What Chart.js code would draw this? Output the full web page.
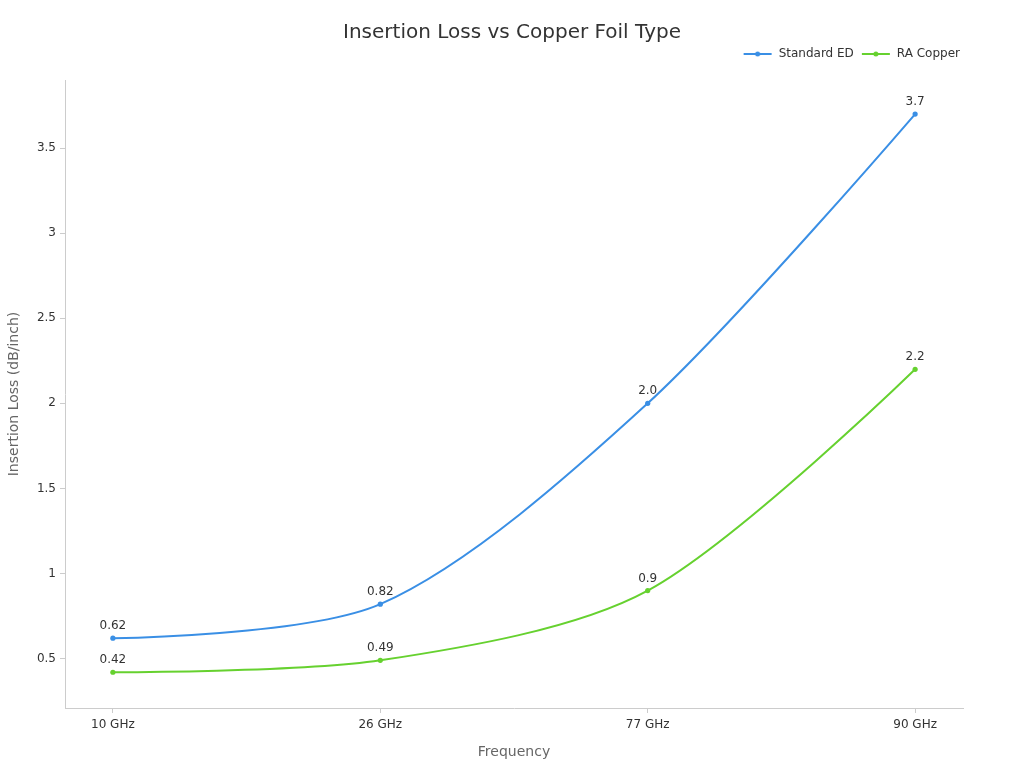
<!DOCTYPE html>
<html>
<head>
<meta charset="utf-8">
<script src="https://cdn.jsdelivr.net/npm/chart.js@4.4.1/dist/chart.umd.min.js"></script>
<style>
  html, body { margin: 0; padding: 0; background: #fff; }
  canvas { display: block; }
</style>
</head>
<body>
<canvas id="chart" width="1024" height="768"></canvas>
<script>
// data
const categories = ["10 GHz", "26 GHz", "77 GHz", "90 GHz"];
const standardED = [0.62, 0.82, 2.0, 3.7];
const raCopper = [0.42, 0.49, 0.9, 2.2];
const standardLabels = ["0.62", "0.82", "2.0", "3.7"];
const raLabels = ["0.42", "0.49", "0.9", "2.2"];
const yTicks = [0.5, 1, 1.5, 2, 2.5, 3, 3.5];

const BLUE = "#3a8fe5";
const GREEN = "#66d12f";
const FONT = "'DejaVu Sans', sans-serif";

Chart.defaults.font.family = FONT;
Chart.defaults.color = "#333";

// legend icon: short line with a dot in the middle (small transparent gap on the left)
function legendIcon(color) {
  const c = document.createElement("canvas");
  c.width = 34;
  c.height = 8;
  const ctx = c.getContext("2d");
  ctx.strokeStyle = color;
  ctx.lineWidth = 2;
  ctx.beginPath();
  ctx.moveTo(5, 4);
  ctx.lineTo(33, 4);
  ctx.stroke();
  ctx.fillStyle = color;
  ctx.beginPath();
  ctx.arc(19, 4, 2.5, 0, Math.PI * 2);
  ctx.fill();
  return c;
}
const icons = [legendIcon(BLUE), legendIcon(GREEN)];

const toPoints = (arr) => arr.map((v, i) => ({ x: i, y: v }));

const clamp = (v, a, b) => Math.max(Math.min(v, Math.max(a, b)), Math.min(a, b));

// smoothing like the reference: ends use the point itself,
// control points kept inside the neighbour boxes
function smoothPoints(pts, smooth) {
  const n = pts.length;
  for (let i = 0; i < n; i++) {
    const p = pts[i];
    if (i === 0 || i === n - 1) {
      p.cp1x = p.x; p.cp1y = p.y; p.cp2x = p.x; p.cp2y = p.y;
      continue;
    }
    const prev = pts[i - 1], next = pts[i + 1];
    let vx = next.x - prev.x, vy = next.y - prev.y;
    const lenPrev = Math.hypot(p.x - prev.x, p.y - prev.y);
    const lenNext = Math.hypot(next.x - p.x, next.y - p.y);
    const ratio = lenNext / (lenNext + lenPrev);
    let nx = clamp(p.x + vx * smooth * ratio, next.x, p.x);
    let ny = clamp(p.y + vy * smooth * ratio, next.y, p.y);
    vx = nx - p.x; vy = ny - p.y;
    const cx = clamp(p.x - vx * lenPrev / lenNext, prev.x, p.x);
    const cy = clamp(p.y - vy * lenPrev / lenNext, prev.y, p.y);
    vx = p.x - cx; vy = p.y - cy;
    nx = p.x + vx * lenNext / lenPrev;
    ny = p.y + vy * lenNext / lenPrev;
    p.cp1x = cx; p.cp1y = cy; p.cp2x = nx; p.cp2y = ny;
  }
}

const smoothCurve = {
  id: "smoothCurve",
  beforeDatasetDraw(chart, args) {
    const line = args.meta.dataset;
    if (!line) return;
    line.updateControlPoints(chart.chartArea, "x");
    smoothPoints(args.meta.data, 0.3);
  }
};

const valueLabels = {
  id: "valueLabels",
  afterDatasetsDraw(chart) {
    const ctx = chart.ctx;
    ctx.save();
    ctx.font = "12px " + FONT;
    ctx.fillStyle = "#333";
    ctx.textAlign = "center";
    ctx.textBaseline = "bottom";
    chart.data.datasets.forEach((ds, di) => {
      const meta = chart.getDatasetMeta(di);
      meta.data.forEach((pt, i) => {
        ctx.fillText(ds.valueLabels[i], pt.x, pt.y - 6);
      });
    });
    ctx.restore();
  }
};

new Chart(document.getElementById("chart"), {
  type: "line",
  data: {
    datasets: [
      {
        label: "Standard ED",
        data: toPoints(standardED),
        valueLabels: standardLabels,
        borderColor: BLUE,
        backgroundColor: BLUE,
        borderWidth: 2,
        pointRadius: 2.6,
        pointBorderWidth: 0,
        pointHoverRadius: 2.6,
        tension: 0.3
      },
      {
        label: "RA Copper",
        data: toPoints(raCopper),
        valueLabels: raLabels,
        borderColor: GREEN,
        backgroundColor: GREEN,
        borderWidth: 2,
        pointRadius: 2.6,
        pointBorderWidth: 0,
        pointHoverRadius: 2.6,
        tension: 0.3
      }
    ]
  },
  options: {
    responsive: false,
    animation: false,
    layout: { padding: 0 },
    plugins: {
      tooltip: { enabled: false },
      title: {
        display: true,
        text: "Insertion Loss vs Copper Foil Type",
        color: "#333",
        font: { size: 20, weight: "normal", lineHeight: 1.0 },
        padding: { top: 23, bottom: 2 }
      },
      // empty spacer between legend and plot
      subtitle: {
        display: true,
        text: "",
        weight: 500,
        fullSize: false,
        font: { size: 5 },
        padding: { top: 0, bottom: 4 }
      },
      legend: {
        position: "top",
        align: "end",
        fullSize: false,
        labels: {
          usePointStyle: true,
          pointStyleWidth: 34,
          color: "#333",
          font: { size: 12 },
          padding: 3,
          generateLabels(chart) {
            const items = Chart.defaults.plugins.legend.labels.generateLabels(chart);
            return items.map((it, i) => Object.assign(it, { pointStyle: icons[i] }));
          }
        }
      }
    },
    scales: {
      x: {
        type: "linear",
        min: -0.179,
        max: 3.179,
        afterBuildTicks(scale) {
          scale.ticks = categories.map((c, i) => ({ value: i }));
        },
        afterFit(scale) { scale.height = 60; },
        ticks: {
          color: "#333",
          font: { size: 12 },
          padding: 5,
          autoSkip: false,
          maxRotation: 0,
          callback: (v) => categories[v]
        },
        grid: { drawOnChartArea: false, drawTicks: true, tickLength: 5, color: "#ccc" },
        border: { color: "#ccc" },
        title: {
          display: true,
          text: "Frequency",
          color: "#666",
          font: { size: 14 },
          padding: { top: 7, bottom: 7 }
        }
      },
      y: {
        min: 0.21,
        max: 3.9,
        afterBuildTicks(scale) {
          scale.ticks = yTicks.map((v) => ({ value: v }));
        },
        afterFit(scale) { scale.width = 65; },
        ticks: {
          color: "#333",
          font: { size: 12 },
          padding: 4,
          callback: (v) => String(v)
        },
        grid: { drawOnChartArea: false, drawTicks: true, tickLength: 5, color: "#ccc" },
        border: { color: "#ccc" },
        title: {
          display: true,
          text: "Insertion Loss (dB/inch)",
          color: "#666",
          font: { size: 14 },
          padding: { top: 6, bottom: 6 }
        }
      },
      // empty right margin
      yRight: {
        position: "right",
        display: true,
        min: 0,
        max: 1,
        afterFit(scale) { scale.width = 61; },
        ticks: { display: false },
        grid: { display: false },
        border: { display: false }
      }
    }
  },
  plugins: [smoothCurve, valueLabels]
});
</script>
</body>
</html>
